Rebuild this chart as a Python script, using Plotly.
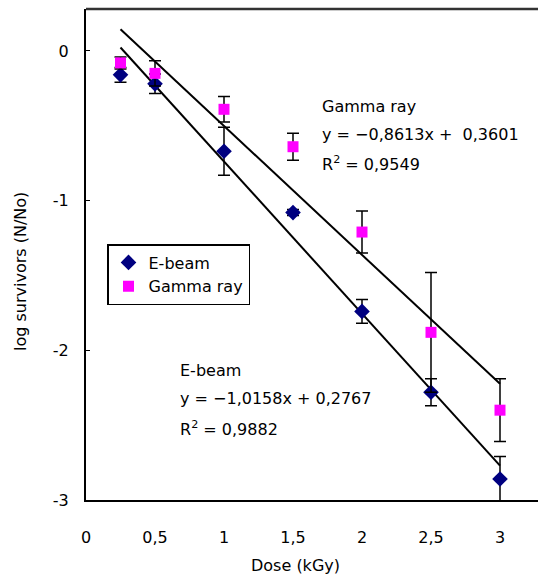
import plotly.graph_objects as go

# ---- data ----
dose = [0.25, 0.5, 1.0, 1.5, 2.0, 2.5, 3.0]
ebeam = [-0.16, -0.22, -0.67, -1.08, -1.74, -2.28, -2.86]
ebeam_err = [0.05, 0.065, 0.16, 0.02, 0.08, 0.09, 0.15]
gamma = [-0.08, -0.15, -0.39, -0.64, -1.21, -1.88, -2.40]
gamma_err = [0.04, 0.085, 0.085, 0.09, 0.14, 0.40, 0.21]

ebeam_fit = (-1.0158, 0.2767)
gamma_fit = (-0.8613, 0.3601)
fit_x = [0.25, 3.0]

xtick_vals = [0, 0.5, 1, 1.5, 2, 2.5, 3]
xtick_text = ["0", "0,5", "1", "1,5", "2", "2,5", "3"]
ytick_vals = [-3, -2, -1, 0]
ytick_text = ["-3", "-2", "-1", "0"]

FONT = "DejaVu Sans"
FS = 16

W, H = 538, 581
L, R, T, B = 86, 538, 9, 500

fig = go.Figure()

for (m, b) in (ebeam_fit, gamma_fit):
    fig.add_trace(go.Scatter(
        x=fit_x, y=[m * v + b for v in fit_x], mode="lines",
        line=dict(color="black", width=2), showlegend=False, hoverinfo="skip"))

fig.add_trace(go.Scatter(
    x=dose, y=ebeam, mode="markers", name="E-beam",
    marker=dict(symbol="diamond", color="#000080", size=12),
    error_y=dict(type="data", array=ebeam_err, color="black", thickness=1.5, width=6)))
fig.add_trace(go.Scatter(
    x=dose, y=gamma, mode="markers", name="Gamma ray",
    marker=dict(symbol="square", color="#FF00FF", size=11),
    error_y=dict(type="data", array=gamma_err, color="black", thickness=1.5, width=6)))

ann_font = dict(family=FONT, size=FS, color="black")
annotations = [
    dict(x=320, y=107, text="Gamma ray"),
    dict(x=320, y=134, text="y = −0,8613x +  0,3601"),
    dict(x=320, y=163, text="R<sup>2</sup> = 0,9549"),
    dict(x=178, y=370, text="E-beam"),
    dict(x=178, y=398, text="y = −1,0158x + 0,2767"),
    dict(x=178, y=428, text="R<sup>2</sup> = 0,9882"),
]
anns = []
for a in annotations:
    anns.append(dict(xref="paper", yref="paper",
                     x=(a["x"] - L) / (R - L), y=(B - a["y"]) / (B - T),
                     text=a["text"], showarrow=False, xanchor="left",
                     yanchor="middle", font=ann_font))

anns.append(dict(xref="paper", yref="paper", x=(295 - L) / (R - L), y=(B - 565) / (B - T),
                 text="Dose (kGy)", showarrow=False, xanchor="center", yanchor="middle",
                 font=dict(family=FONT, size=FS, color="black")))
anns.append(dict(xref="paper", yref="paper", x=(20 - L) / (R - L), y=(B - 272) / (B - T),
                 text="log survivors (N/No)", showarrow=False, textangle=-90,
                 xanchor="center", yanchor="middle",
                 font=dict(family=FONT, size=FS, color="black")))

fig.update_layout(
    width=W, height=H,
    margin=dict(l=L, r=W - R, t=T, b=H - B, pad=0, autoexpand=False),
    paper_bgcolor="white", plot_bgcolor="white",
    font=dict(family=FONT, size=FS, color="black"),
    showlegend=True,
    legend=dict(x=(107 - L) / (R - L), y=(B - 244) / (B - T), xanchor="left", yanchor="top",
                bordercolor="black", borderwidth=1.5, bgcolor="white",
                font=dict(family=FONT, size=FS, color="black"),
                tracegroupgap=4, itemwidth=30),
    annotations=anns,
    shapes=[dict(type="line", xref="paper", yref="paper", x0=0, x1=1, y0=1, y1=1,
                 line=dict(color="#333333", width=2.5))],
)
fig.update_xaxes(range=[0, (R - L) / 138.0], tickvals=xtick_vals, ticktext=xtick_text,
                 showgrid=False, zeroline=False, showline=True, linecolor="black",
                 linewidth=2, mirror=False, ticks="", ticklabelstandoff=22)
fig.update_yaxes(range=[-3, 0.28], tickvals=ytick_vals, ticktext=ytick_text,
                 showgrid=False, zeroline=False, showline=True, linecolor="black",
                 linewidth=2, mirror=False, ticks="inside", ticklen=4, tickcolor="black",
                 ticklabelstandoff=12)

fig.write_html("out.html")
